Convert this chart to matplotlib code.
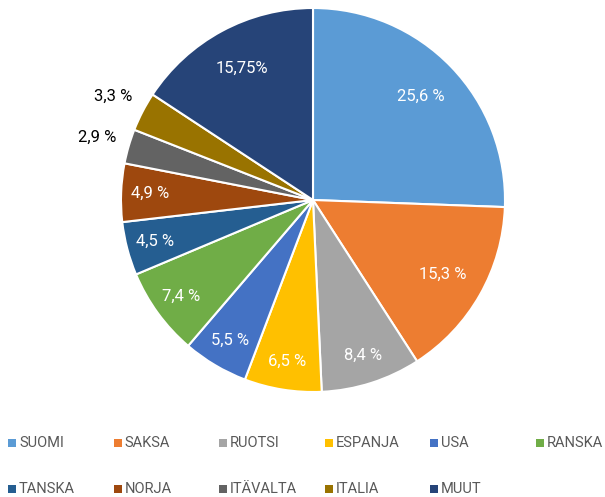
import numpy as np
import matplotlib.pyplot as plt
from matplotlib.patches import Rectangle

plt.rcParams["font.family"] = ["Roboto", "DejaVu Sans"]

countries = ["SUOMI", "SAKSA", "RUOTSI", "ESPANJA", "USA", "RANSKA",
             "TANSKA", "NORJA", "ITÄVALTA", "ITALIA", "MUUT"]
shares = [25.6, 15.3, 8.4, 6.5, 5.5, 7.4, 4.5, 4.9, 2.9, 3.3, 15.75]
share_labels = ["25,6 %", "15,3 %", "8,4 %", "6,5 %", "5,5 %", "7,4 %",
                "4,5 %", "4,9 %", "2,9 %", "3,3 %", "15,75%"]
colors = ["#5B9BD5", "#ED7D31", "#A5A5A5", "#FFC000", "#4472C4", "#70AD47",
          "#255E91", "#9E480E", "#636363", "#997300", "#264478"]
outside = ["ITÄVALTA", "ITALIA"]

W, H = 605, 497
fig = plt.figure(figsize=(W / 100, H / 100), dpi=100)
ax = fig.add_axes([121 / W, (H - 392) / H, 384 / W, 384 / H])

wedges, _ = ax.pie(shares, colors=colors, startangle=90, counterclock=False,
                   wedgeprops=dict(edgecolor="white", linewidth=1.5))
ax.set_xlim(-1, 1)
ax.set_ylim(-1, 1)
ax.set_aspect("equal")

for w, name, val, lab in zip(wedges, countries, shares, share_labels):
    ang = np.deg2rad((w.theta1 + w.theta2) / 2)
    if name in outside:
        r, c = 1.17, "black"
    elif val > 10:
        r, c = 0.78, "white"
    else:
        r, c = 0.85, "white"
    ax.text(r * np.cos(ang), r * np.sin(ang), lab, color=c, fontsize=12,
            ha="center", va="center")

# legend laid out as a grid, two rows of six
for i, (name, c) in enumerate(zip(countries, colors)):
    col, row = i % 6, i // 6
    x = 8 + col * 105.5
    y = 443 + row * 46
    fig.add_artist(Rectangle((x / W, 1 - (y + 4) / H), 8 / W, 8 / H,
                             transform=fig.transFigure, facecolor=c,
                             edgecolor="none"))
    fig.text((x + 11) / W, 1 - y / H, name, fontsize=10.5, color="#595959",
             ha="left", va="center")

fig.savefig("out.png", dpi=100)
